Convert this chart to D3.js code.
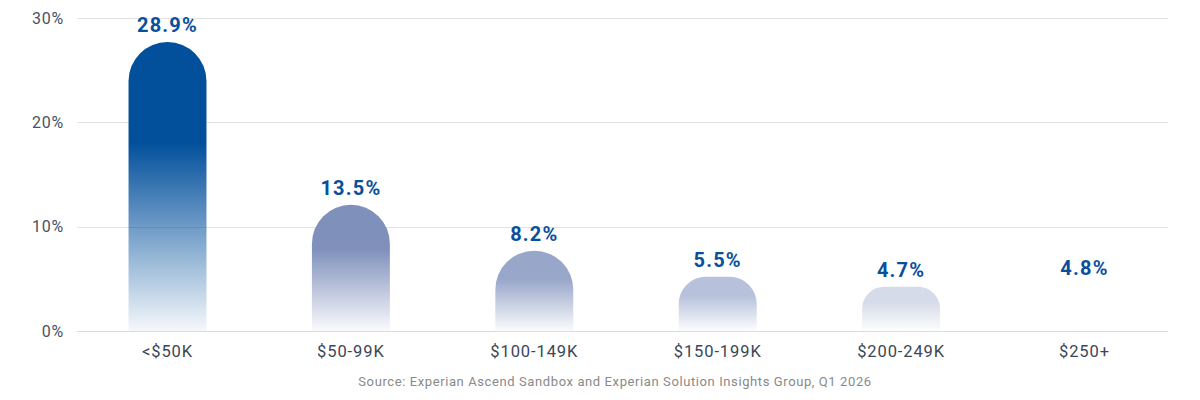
<!DOCTYPE html>
<head>
	<meta charset="utf-8">
	<script src="https://d3js.org/d3.v7.min.js"></script>
	<style>
		body { margin: 0; background: #fff; }
		text { font-family: Roboto, "Noto Sans", sans-serif; }
	</style>
</head>
<body>
	<div id="chart"></div>
	<script>

	// data
	var categories = ["<$50K", "$50-99K", "$100-149K", "$150-199K", "$200-249K", "$250+"];
	var shares = [28.9, 13.5, 8.2, 5.5, 4.7, 4.8];          // printed labels, %
	var barLevels = [27.7, 12.1, 7.7, 5.2, 4.25, 4.5];      // drawn bar tops, %
	var barColors = ["#02509c", "#7f90bb", "#97a6c9", "#b7c1dc", "#d5dbe8", "#ffffff"];
	var yTicks = [0, 10, 20, 30];
	var source = "Source: Experian Ascend Sandbox and Experian Solution Insights Group, Q1 2026";

	var width = 1200, height = 400;
	var plotLeft = 77, plotRight = 1168, plotTop = 18, plotBottom = 331;

	var svg = d3.select("#chart").append("svg")
		.attr("width", width)
		.attr("height", height);

	var x = d3.scaleBand()
		.domain(categories)
		.range([plotLeft, 1175])
		.paddingInner(0.575)
		.paddingOuter(0.281);

	var y = d3.scaleLinear()
		.domain([0, 30])
		.range([plotBottom, plotTop]);

	// gradients, one per bar
	var defs = svg.append("defs");
	var grads = defs.selectAll("linearGradient")
		.data(barColors)
		.join("linearGradient")
			.attr("id", (d, i) => "g" + i)
			.attr("x1", 0).attr("y1", 0).attr("x2", 0).attr("y2", 1);
	grads.append("stop").attr("offset", "0%").attr("stop-color", d => d);
	grads.append("stop").attr("offset", "35%").attr("stop-color", d => d);
	grads.append("stop").attr("offset", "100%").attr("stop-color", d => d).attr("stop-opacity", 0.04);

	// grid
	svg.append("g")
		.selectAll("line")
		.data(yTicks)
		.join("line")
			.attr("x1", plotLeft)
			.attr("x2", plotRight)
			.attr("y1", d => Math.round(y(d)) + 0.5)
			.attr("y2", d => Math.round(y(d)) + 0.5)
			.attr("stroke", d => d == 0 ? "#d9dce4" : "#e2e2e2")
			.attr("stroke-width", 1);

	// y labels
	svg.append("g")
		.selectAll("text")
		.data(yTicks)
		.join("text")
			.attr("x", 64)
			.attr("y", d => y(d) + 5.5)
			.attr("text-anchor", "end")
			.attr("fill", "#4a5260")
			.style("font-size", "16px")
			.style("letter-spacing", "0.8px")
			.text(d => d + "%");

	// bars with rounded tops
	function barPath(d, i) {
		var x0 = x(categories[i]), w = x.bandwidth();
		var y0 = y(d), h = plotBottom - y0;
		var r = Math.min(w / 2, h / 2);
		return "M" + x0 + "," + plotBottom +
			"V" + (y0 + r) +
			"A" + r + "," + r + " 0 0 1 " + (x0 + r) + "," + y0 +
			"H" + (x0 + w - r) +
			"A" + r + "," + r + " 0 0 1 " + (x0 + w) + "," + (y0 + r) +
			"V" + plotBottom + "Z";
	}

	svg.append("g")
		.selectAll("path")
		.data(barLevels)
		.join("path")
			.attr("d", barPath)
			.attr("fill", (d, i) => "url(#g" + i + ")");

	// value labels
	svg.append("g")
		.selectAll("text")
		.data(shares)
		.join("text")
			.attr("x", (d, i) => x(categories[i]) + x.bandwidth() / 2)
			.attr("y", (d, i) => y(barLevels[i]) - 9.5)
			.attr("text-anchor", "middle")
			.attr("fill", "#0a4f9c")
			.style("font-size", "20px")
			.style("font-weight", "bold")
			.style("letter-spacing", "1.2px")
			.text(d => d.toFixed(1) + "%");

	// category labels
	svg.append("g")
		.selectAll("text")
		.data(categories)
		.join("text")
			.attr("x", d => x(d) + x.bandwidth() / 2)
			.attr("y", 357)
			.attr("text-anchor", "middle")
			.attr("fill", "#3b4656")
			.style("font-size", "16.5px")
			.style("letter-spacing", "0.9px")
			.text(d => d);

	svg.append("text")
		.attr("x", 615)
		.attr("y", 386)
		.attr("text-anchor", "middle")
		.attr("fill", "#8a8a8a")
		.style("font-size", "13px")
		.style("letter-spacing", "0.6px")
		.text(source);
</script>
</body>
</html>
